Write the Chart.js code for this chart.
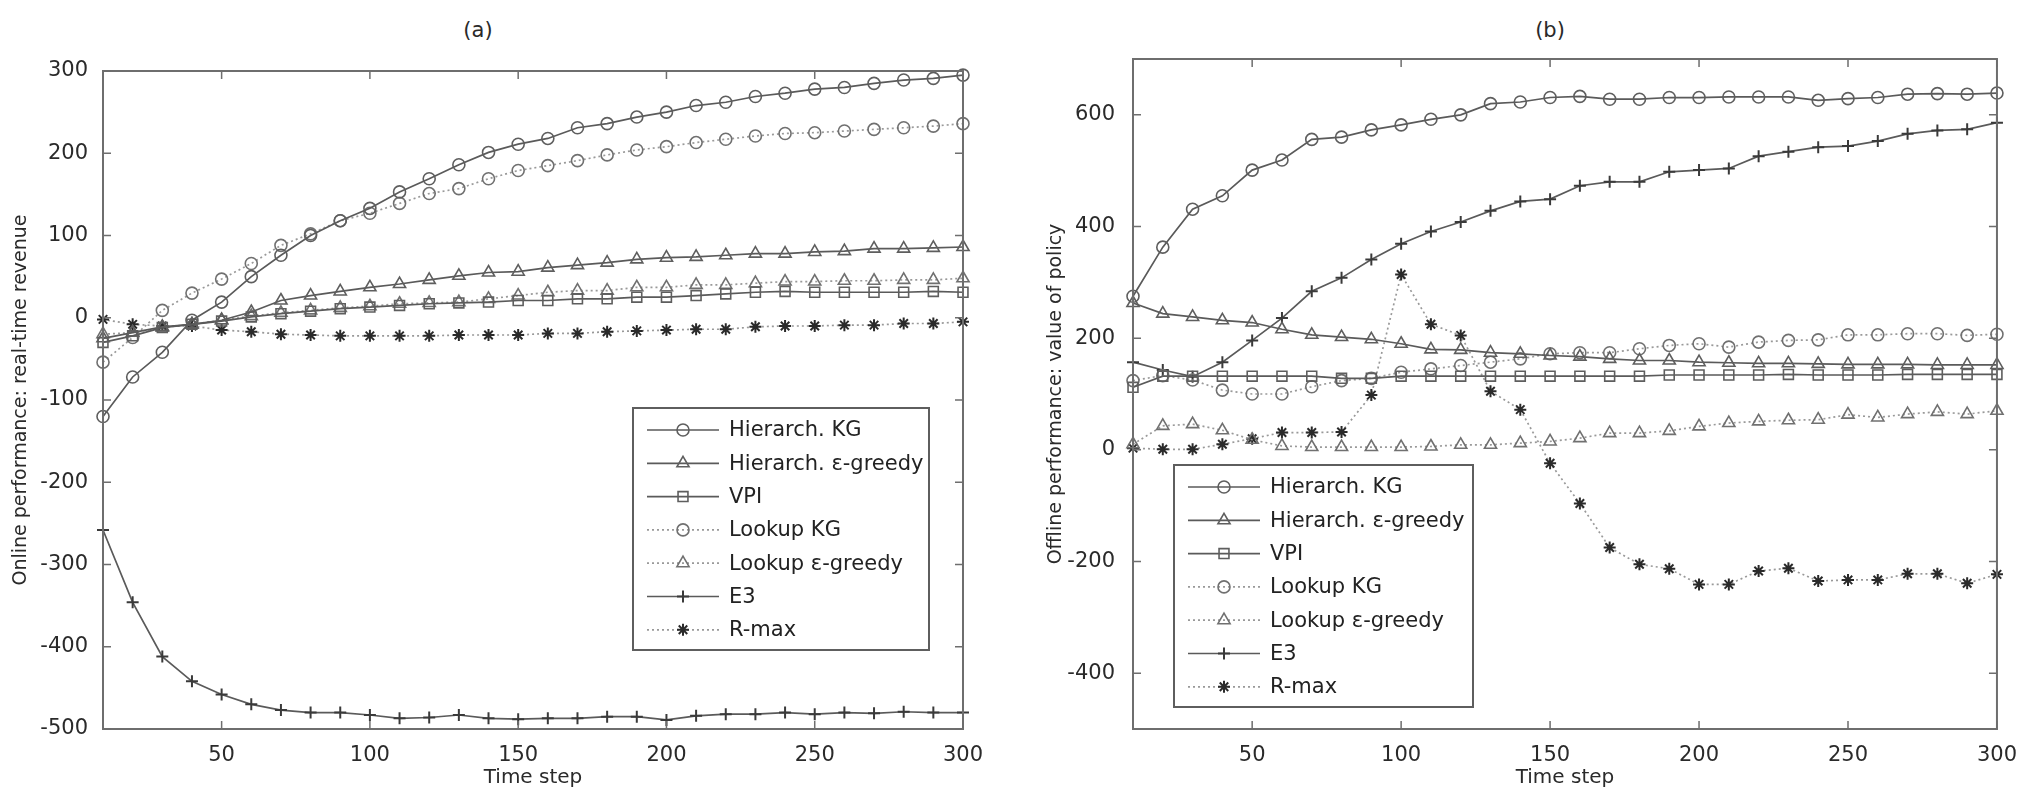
<!DOCTYPE html>
<html>
<head>
<meta charset="utf-8">
<script src="https://cdn.jsdelivr.net/npm/chart.js@4.4.0/dist/chart.umd.min.js"></script>
<style>
  body { margin: 0; background: #fff; width: 2023px; height: 791px; position: relative; overflow: hidden; font-family: "DejaVu Sans", sans-serif; }
  canvas { position: absolute; top: 0; }
  #chartA { left: 0; }
  #chartB { left: 1000px; }
  .panel-title { position: absolute; top: 18px; font-size: 21px; line-height: 24px; color: #2a2a2a; transform: translateX(-50%); }
</style>
</head>
<body>
<div class="panel-title" style="left:478px">(a)</div>
<div class="panel-title" style="left:1550px">(b)</div>
<canvas id="chartA" width="1000" height="791"></canvas>
<canvas id="chartB" width="1023" height="791"></canvas>
<script>
// time steps and legend names
var steps = [10, 20, 30, 40, 50, 60, 70, 80, 90, 100, 110, 120, 130, 140, 150,
             160, 170, 180, 190, 200, 210, 220, 230, 240, 250, 260, 270, 280, 290, 300];
var names = ['Hierarch. KG', 'Hierarch. ε-greedy', 'VPI', 'Lookup KG', 'Lookup ε-greedy', 'E3', 'R-max'];
var xTicks = [50, 100, 150, 200, 250, 300];
var yTicksOnline = [-500, -400, -300, -200, -100, 0, 100, 200, 300];
var yTicksOffline = [-400, -200, 0, 200, 400, 600];

// (a) online performance: real-time revenue
var onHierKG  = [-120, -72, -42, -3, 19, 50, 76, 100, 118, 133, 153, 169, 186, 201, 211, 218, 231, 236, 244, 250, 258, 262, 269, 273, 278, 280, 285, 289, 291, 295];
var onHierEps = [-25, -18, -11, -8, -3, 7, 21, 27, 32, 37, 41, 46, 51, 55, 56, 61, 64, 67, 71, 73, 74, 76, 78, 78, 80, 81, 84, 84, 85, 86];
var onVPI     = [-30, -22, -12, -8, -4, 1, 5, 8, 11, 13, 15, 17, 18, 19, 21, 21, 23, 23, 25, 25, 27, 29, 31, 32, 31, 31, 31, 31, 32, 31];
var onLookKG  = [-54, -24, 9, 30, 47, 66, 88, 102, 118, 127, 139, 151, 157, 169, 179, 185, 191, 198, 204, 208, 213, 217, 221, 224, 225, 227, 229, 231, 233, 236];
var onLookEps = [-20, -18, -12, -8, -3, 2, 6, 9, 12, 14, 17, 18, 19, 23, 27, 31, 33, 33, 37, 37, 40, 40, 42, 44, 44, 45, 45, 46, 46, 48];
var onE3      = [-258, -346, -412, -442, -458, -470, -477, -480, -480, -483, -487, -486, -483, -487, -488, -487, -487, -485, -485, -489, -484, -482, -482, -480, -482, -480, -481, -479, -480, -480];
var onRmax    = [-2, -8, -10, -10, -15, -17, -20, -21, -22, -22, -22, -22, -21, -21, -21, -19, -19, -17, -16, -15, -14, -14, -11, -10, -10, -9, -9, -7, -7, -5];

// (b) offline performance: value of policy
var offHierKG  = [275, 363, 431, 455, 501, 519, 556, 560, 573, 582, 592, 600, 620, 623, 631, 633, 628, 628, 631, 631, 632, 632, 632, 626, 629, 631, 637, 638, 637, 639];
var offHierEps = [263, 244, 238, 232, 228, 216, 206, 202, 198, 190, 180, 179, 174, 172, 169, 167, 163, 160, 160, 157, 156, 155, 155, 154, 153, 153, 153, 152, 152, 152];
var offVPI     = [112, 132, 132, 132, 132, 132, 132, 128, 128, 132, 132, 132, 132, 132, 132, 132, 132, 132, 134, 134, 134, 134, 135, 134, 134, 134, 135, 135, 135, 135];
var offLookKG  = [124, 133, 125, 107, 100, 100, 113, 124, 128, 139, 145, 151, 157, 163, 172, 174, 174, 181, 187, 190, 184, 193, 196, 197, 206, 206, 208, 208, 205, 207];
var offLookEps = [10, 43, 46, 35, 18, 7, 5, 5, 5, 5, 6, 9, 9, 12, 15, 21, 30, 30, 34, 42, 48, 51, 53, 54, 63, 58, 64, 68, 64, 70];
var offE3      = [157, 143, 131, 157, 196, 236, 284, 308, 341, 369, 391, 408, 428, 445, 449, 473, 480, 480, 498, 501, 504, 526, 534, 542, 544, 553, 566, 572, 574, 586];
var offRmax    = [3, 1, 1, 10, 20, 31, 31, 32, 98, 314, 225, 205, 105, 72, -24, -96, -175, -205, -213, -241, -241, -217, -212, -235, -233, -233, -222, -222, -239, -223];

Chart.defaults.font.family = '"DejaVu Sans", sans-serif';
Chart.defaults.color = '#2a2a2a';

var SOLID = '#5a5a5a', DOTTED = '#999';
var looks = [
  { pointStyle: 'circle',   pointRadius: 6, line: SOLID,  dash: [],     mark: '#5e5e5e' },
  { pointStyle: 'triangle', pointRadius: 7, line: SOLID,  dash: [],     mark: '#5e5e5e' },
  { pointStyle: 'rect',     pointRadius: 7, line: SOLID,  dash: [],     mark: '#5e5e5e' },
  { pointStyle: 'circle',   pointRadius: 6, line: DOTTED, dash: [2, 3], mark: '#707070' },
  { pointStyle: 'triangle', pointRadius: 7, line: DOTTED, dash: [2, 3], mark: '#707070' },
  { pointStyle: 'cross',    pointRadius: 6, line: SOLID,  dash: [],     mark: '#3a3a3a' },
  { pointStyle: 'star',     pointRadius: 6, line: DOTTED, dash: [2, 3], mark: '#2a2a2a' }
];

function makeDatasets(series) {
  return series.map(function (vals, i) {
    var lk = looks[i];
    return {
      label: names[i],
      data: steps.map(function (s, j) { return { x: s, y: vals[j] }; }),
      borderColor: lk.line,
      borderWidth: 1.7,
      borderDash: lk.dash,
      pointStyle: lk.pointStyle,
      pointRadius: lk.pointRadius,
      pointBorderColor: lk.mark,
      pointBackgroundColor: 'rgba(0,0,0,0)',
      pointBorderWidth: lk.pointStyle === 'star' || lk.pointStyle === 'cross' ? 2 : 1.6,
      tension: 0,
      clip: false
    };
  });
}

// box with inward tick marks on all four sides
var framePlugin = {
  id: 'frame',
  afterDatasetsDraw: function (chart) {
    var ctx = chart.ctx, a = chart.chartArea, x = chart.scales.x, y = chart.scales.y, len = 8;
    ctx.save();
    ctx.strokeStyle = '#6e6e6e';
    ctx.lineWidth = 2;
    ctx.strokeRect(a.left, a.top, a.right - a.left, a.bottom - a.top);
    ctx.lineWidth = 1.5;
    ctx.beginPath();
    x.ticks.forEach(function (t) {
      var px = x.getPixelForValue(t.value);
      ctx.moveTo(px, a.bottom); ctx.lineTo(px, a.bottom - len);
      ctx.moveTo(px, a.top); ctx.lineTo(px, a.top + len);
    });
    y.ticks.forEach(function (t) {
      var py = y.getPixelForValue(t.value);
      ctx.moveTo(a.left, py); ctx.lineTo(a.left + len, py);
      ctx.moveTo(a.right, py); ctx.lineTo(a.right - len, py);
    });
    ctx.stroke();
    ctx.restore();
  }
};

// legend box with a line sample and marker per series
var boxLegend = {
  id: 'boxLegend',
  afterDraw: function (chart, args, o) {
    var ctx = chart.ctx, a = chart.chartArea;
    var w = o.width, h = o.height;
    var left = o.left !== undefined ? a.left + o.left : a.right - o.right - w;
    var top = o.top !== undefined ? a.top + o.top : a.bottom - o.bottom - h;
    ctx.save();
    ctx.fillStyle = '#fff';
    ctx.fillRect(left, top, w, h);
    ctx.strokeStyle = '#5e5e5e';
    ctx.lineWidth = 2;
    ctx.strokeRect(left, top, w, h);
    ctx.font = '21px "DejaVu Sans", sans-serif';
    ctx.textBaseline = 'middle';
    chart.data.datasets.forEach(function (ds, i) {
      var cy = top + 22 + i * 33.3;
      ctx.beginPath();
      ctx.strokeStyle = ds.borderColor;
      ctx.lineWidth = ds.borderWidth;
      ctx.setLineDash(ds.borderDash);
      ctx.moveTo(left + 14, cy);
      ctx.lineTo(left + 86, cy);
      ctx.stroke();
      ctx.setLineDash([]);
      ctx.strokeStyle = ds.pointBorderColor;
      ctx.fillStyle = 'rgba(0,0,0,0)';
      ctx.lineWidth = ds.pointBorderWidth;
      Chart.helpers.drawPoint(ctx, { pointStyle: ds.pointStyle, radius: ds.pointRadius, rotation: 0, borderWidth: ds.pointBorderWidth }, left + 50, cy);
      ctx.fillStyle = '#222';
      ctx.fillText(ds.label, left + 96, cy + 1);
    });
    ctx.restore();
  }
};

function makeOptions(cfg) {
  return {
    responsive: false,
    animation: false,
    devicePixelRatio: 1,
    layout: { padding: { top: cfg.padTop, right: cfg.padRight, left: 0, bottom: 0 } },
    plugins: {
      legend: { display: false },
      tooltip: { enabled: false },
      boxLegend: cfg.legend
    },
    scales: {
      x: {
        type: 'linear',
        min: 10, max: 300,
        grid: { display: false },
        border: { display: false },
        afterBuildTicks: function (s) { s.ticks = xTicks.map(function (v) { return { value: v }; }); },
        afterFit: function (s) { s.height = 62; },
        ticks: { padding: 6, font: { size: 21 }, color: '#2a2a2a' },
        title: { display: true, text: 'Time step', font: { size: 20 }, color: '#2a2a2a', padding: { top: 0, bottom: 1 } }
      },
      y: {
        type: 'linear',
        min: cfg.yMin, max: cfg.yMax,
        grid: { display: false },
        border: { display: false },
        afterBuildTicks: function (s) { s.ticks = cfg.yTicks.map(function (v) { return { value: v }; }); },
        afterFit: function (s) { s.width = cfg.yWidth; },
        ticks: { padding: cfg.yPad, font: { size: 21 }, color: '#2a2a2a' },
        title: { display: true, text: cfg.yTitle, font: { size: 19 }, color: '#2a2a2a', padding: { top: cfg.titlePad, bottom: 0 } }
      }
    }
  };
}

new Chart(document.getElementById('chartA'), {
  type: 'line',
  data: { datasets: makeDatasets([onHierKG, onHierEps, onVPI, onLookKG, onLookEps, onE3, onRmax]) },
  options: makeOptions({
    padTop: 71, padRight: 37, yMin: -500, yMax: 300, yTicks: yTicksOnline,
    yWidth: 103, yPad: 7, titlePad: 10,
    yTitle: 'Online performance: real-time revenue',
    legend: { width: 296, height: 242, right: 34, top: 337 }
  }),
  plugins: [framePlugin, boxLegend]
});

new Chart(document.getElementById('chartB'), {
  type: 'line',
  data: { datasets: makeDatasets([offHierKG, offHierEps, offVPI, offLookKG, offLookEps, offE3, offRmax]) },
  options: makeOptions({
    padTop: 59, padRight: 25, yMin: -500, yMax: 700, yTicks: yTicksOffline,
    yWidth: 133, yPad: 10, titlePad: 45,
    yTitle: 'Offline performance: value of policy',
    legend: { width: 299, height: 242, left: 41, bottom: 22 }
  }),
  plugins: [framePlugin, boxLegend]
});
</script>
</body>
</html>
